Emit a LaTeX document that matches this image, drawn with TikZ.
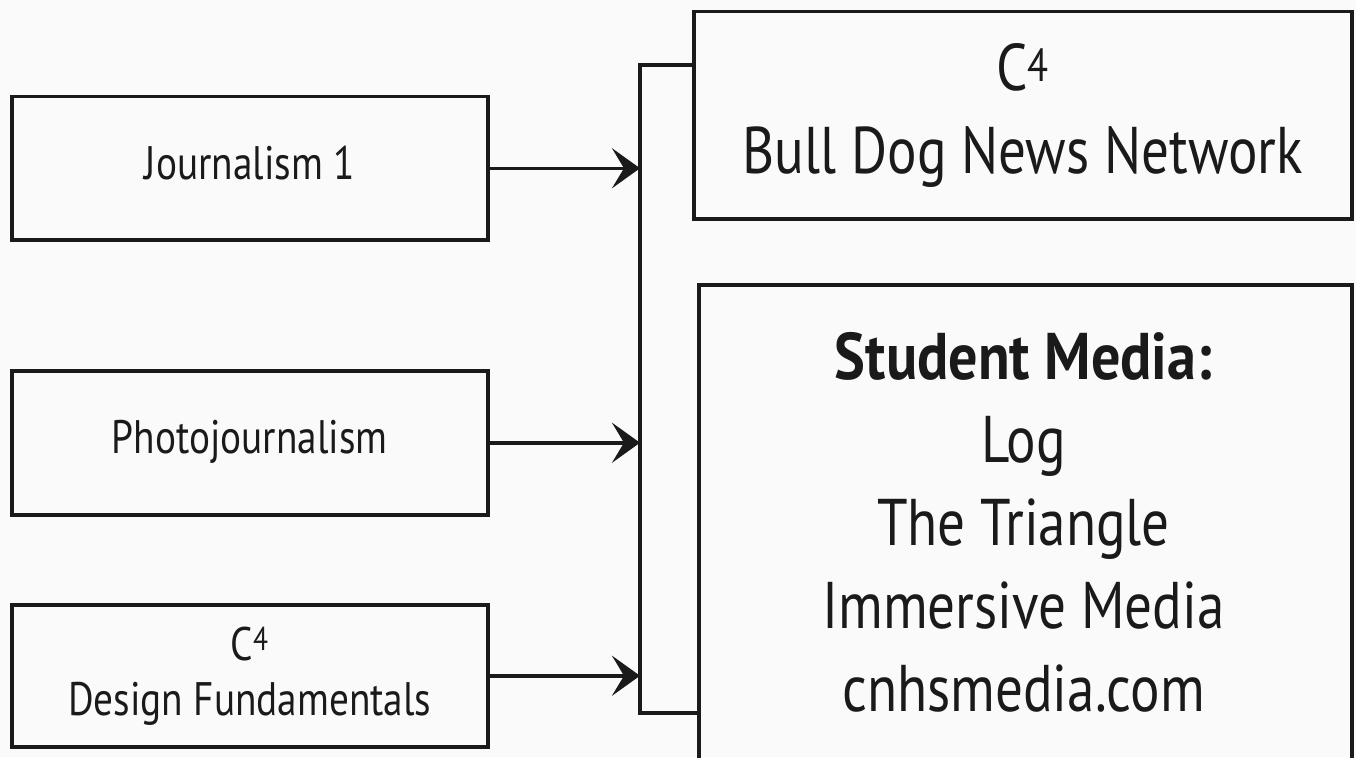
\documentclass[tikz,border=0pt]{standalone}
\usepackage{fontspec}
\setmainfont[FakeStretch=0.835, BoldFeatures={FakeStretch=0.88}]{PT Sans}
\usetikzlibrary{arrows.meta}
\definecolor{ink}{HTML}{1A1A1A}
\definecolor{bg}{HTML}{FAFAFA}
\begin{document}
\begin{tikzpicture}[x=1pt,y=-1pt,
  box/.style={draw=ink, line width=3.5pt, rectangle, inner sep=0pt, text=ink, align=center},
  conn/.style={draw=ink, line width=3.5pt},
  arr/.style={conn, -{Stealth[length=28pt,width=40pt,inset=12pt]}},
  small/.style={font=\fontsize{47}{55}\selectfont},
  big/.style={font=\fontsize{66}{83}\selectfont},
  oneline/.style={text height=33pt, text depth=11pt}]
\useasboundingbox (0,0) rectangle (1356,757);
\fill[bg] (0,0) rectangle (1356,757);
\clip (0,0) rectangle (1356,757);
% left boxes
\node[box, small, oneline, anchor=north west, minimum width=476pt, minimum height=143pt] (j1) at (10,95) {Journalism 1};
\node[box, small, oneline, anchor=north west, minimum width=476pt, minimum height=144pt] (pj) at (10,369) {Photojournalism};
\node[box, small, anchor=north west, minimum width=476pt, minimum height=142pt] (df) at (10,603) {C\textsuperscript{4}\\Design Fundamentals};
% right boxes
\node[box, big, anchor=north west, minimum width=658pt, minimum height=207pt] (bdnn) at (692,10) {C\textsuperscript{4}\\Bull Dog News Network};
\node[box, anchor=north west, minimum width=653pt, minimum height=520pt] (sm) at (697,283) {};
\node[big, text=ink, align=center, inner sep=0pt] (smtext) at (1023.5,522) {\textbf{Student Media:}\\Log\\The Triangle\\Immersive Media\\cnhsmedia.com};
% bus
\coordinate (bt) at (640,65);
\coordinate (bb) at (640,713);
\draw[conn] (bdnn.west |- bt) -- (bt) -- (bb) -- (sm.west |- bb);
% arrows
\draw[arr] (j1.east) -- (j1.east -| bt);
\draw[arr] (pj.east) -- (pj.east -| bt);
\draw[arr] (df.east) -- (df.east -| bt);
\end{tikzpicture}
\end{document}
